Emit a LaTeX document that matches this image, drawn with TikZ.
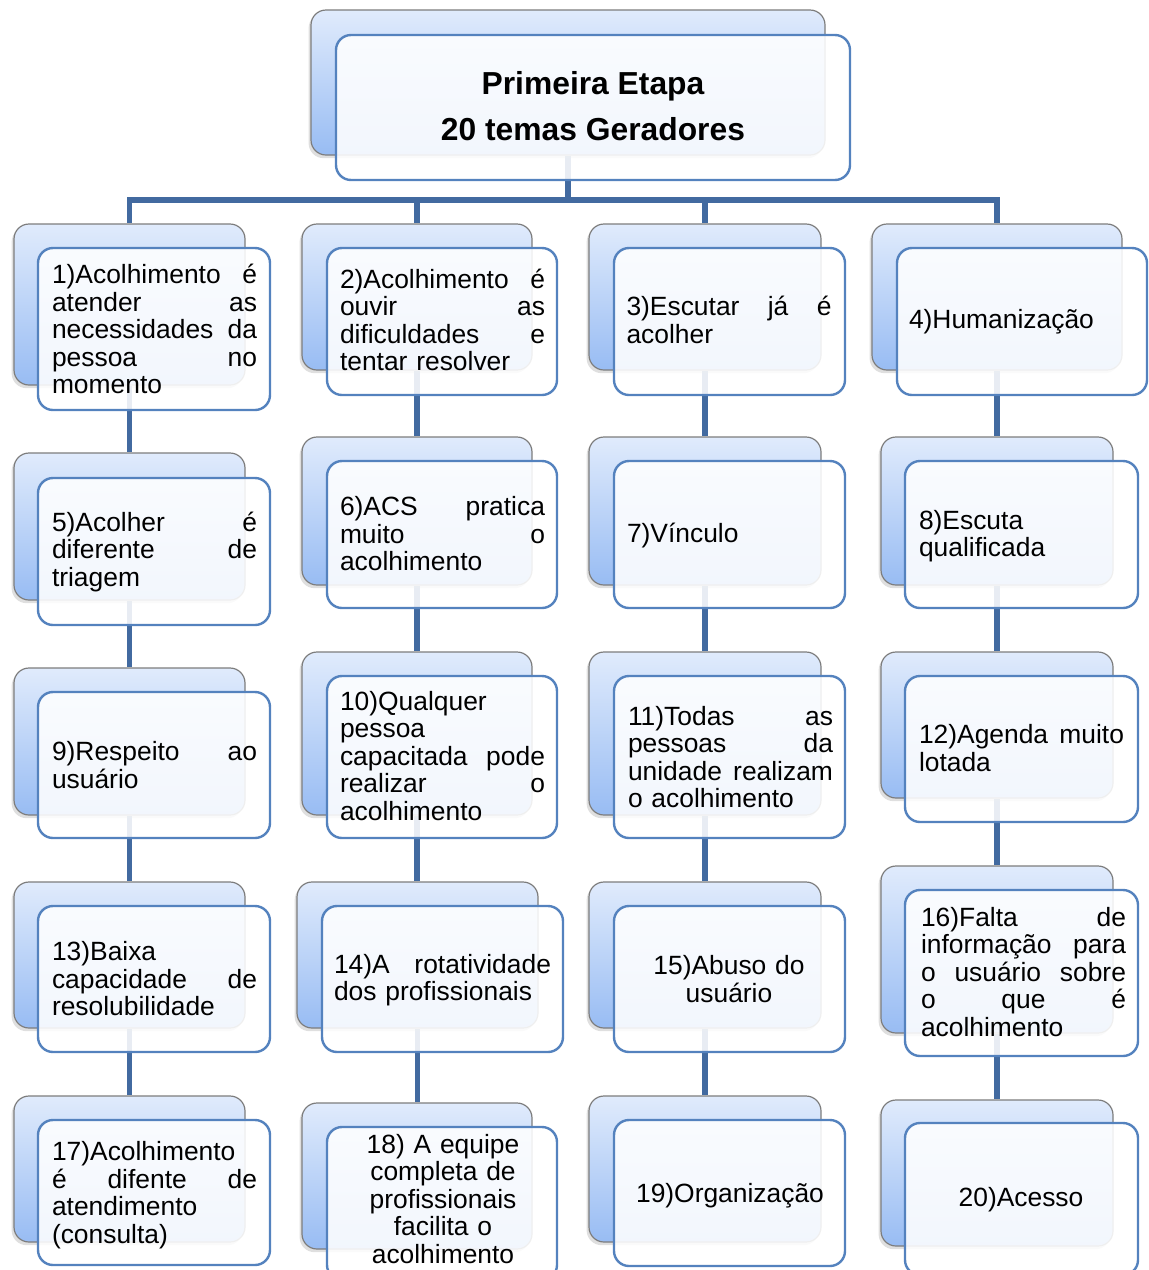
\documentclass[tikz,border=0pt]{standalone}
\usepackage{fontspec}
\setmainfont{Liberation Sans}
\usetikzlibrary{fit,shadows,backgrounds}

\definecolor{linkblue}{RGB}{66,106,160}
\definecolor{edgeblue}{RGB}{84,130,190}
\definecolor{backtop}{RGB}{224,235,252}
\definecolor{backbot}{RGB}{152,188,243}
\definecolor{backedge}{RGB}{125,125,125}

\tikzset{
  back/.style={rectangle, rounded corners=7.5pt, draw=backedge, line width=0.6pt,
    top color=backtop, bottom color=backbot, inner sep=0pt,
    drop shadow={shadow xshift=-1.2pt, shadow yshift=-1.6pt, opacity=0.25}},
  front/.style={rectangle, rounded corners=7.5pt, draw=edgeblue, line width=1.2pt,
    fill=white, fill opacity=0.88, inner sep=0pt},
  link/.style={draw=linkblue, line width=2.6pt},
  txt/.style={text width=102.5pt, align=left, inner sep=0pt,
    font=\fontsize{13.2}{13.75}\selectfont},
  ctxt/.style={txt, align=center}
}

\begin{document}
\begin{tikzpicture}[x=0.5pt, y=-0.5pt]
    \useasboundingbox (0,0) rectangle (1149,1270);

    % Root
    \node[back, fit={(311,10) (825,155)}] (rb) {};
    \node[front, fit={(336,35) (850,180)}] (rf) {};
    \node[inner sep=0pt, align=center, font=\bfseries\fontsize{15.9}{23}\selectfont] (title) at (593,106)
        {Primeira Etapa\\20 temas Geradores};
    \coordinate (bus) at (0,200);

    % Row 1
    \node[back, fit={(14,224) (245,385)}] (b1) {};
    \node[front, fit={(38,248) (270,410)}] (f1) {};
    \node[txt] (t1) at (154.5,329) {1)Acolhimento\hfill é\\ atender\hfill as\\ necessidades\hfill da\\ pessoa\hfill no\\ momento};
    \node[back, fit={(302,224) (532,370)}] (b2) {};
    \node[front, fit={(327,248) (557,395)}] (f2) {};
    \node[txt] (t2) at (442.5,320) {2)Acolhimento\hfill é\\ ouvir\hfill as\\ dificuldades\hfill e\\ tentar resolver};
    \node[back, fit={(589,224) (821,370)}] (b3) {};
    \node[front, fit={(614,248) (845,395)}] (f3) {};
    \node[txt] (t3) at (729,320) {3)Escutar\hfill já\hfill é\\ acolher};
    \node[back, fit={(872,224) (1122,370)}] (b4) {};
    \node[front, fit={(897,248) (1147,395)}] (f4) {};
    \node[txt] (t4) at (1011.5,322) {4)Humanização};

    % Row 2
    \node[back, fit={(14,453) (245,600)}] (b5) {};
    \node[front, fit={(38,478) (270,625)}] (f5) {};
    \node[txt] (t5) at (154.5,552) {5)Acolher\hfill é\\ diferente\hfill de\\ triagem};
    \node[back, fit={(302,437) (532,585)}] (b6) {};
    \node[front, fit={(327,461) (557,608)}] (f6) {};
    \node[txt] (t6) at (442.5,534) {6)ACS\hfill pratica\\ muito\hfill o\\ acolhimento};
    \node[back, fit={(589,437) (821,585)}] (b7) {};
    \node[front, fit={(614,461) (845,608)}] (f7) {};
    \node[txt] (t7) at (729.5,536) {7)Vínculo};
    \node[back, fit={(881,437) (1113,585)}] (b8) {};
    \node[front, fit={(905,461) (1138,608)}] (f8) {};
    \node[txt] (t8) at (1021.5,536) {8)Escuta\\ qualificada};

    % Row 3
    \node[back, fit={(14,668) (245,815)}] (b9) {};
    \node[front, fit={(38,692) (270,838)}] (f9) {};
    \node[txt] (t9) at (154.5,765) {9)Respeito\hfill ao\\ usuário};
    \node[back, fit={(302,652) (532,815)}] (b10) {};
    \node[front, fit={(327,676) (557,838)}] (f10) {};
    \node[txt] (t10) at (442.5,756) {10)Qualquer\\ pessoa\\ capacitada\hfill pode\\ realizar\hfill o\\ acolhimento};
    \node[back, fit={(589,652) (821,815)}] (b11) {};
    \node[front, fit={(614,676) (845,838)}] (f11) {};
    \node[txt] (t11) at (730.5,757) {11)Todas\hfill as\\ pessoas\hfill da\\ unidade\hfill realizam\\ o acolhimento};
    \node[back, fit={(881,652) (1113,798)}] (b12) {};
    \node[front, fit={(905,676) (1138,822)}] (f12) {};
    \node[txt] (t12) at (1021.5,748) {12)Agenda\hfill muito\\ lotada};

    % Row 4
    \node[back, fit={(14,882) (245,1028)}] (b13) {};
    \node[front, fit={(38,906) (270,1052)}] (f13) {};
    \node[txt] (t13) at (154.5,979) {13)Baixa\\ capacidade\hfill de\\ resolubilidade};
    \node[back, fit={(297,882) (538,1028)}] (b14) {};
    \node[front, fit={(322,906) (563,1052)}] (f14) {};
    \node[txt, text width=108.5pt] (t14) at (442.5,980) {14)A\hfill rotatividade\\ dos profissionais};
    \node[back, fit={(589,882) (821,1028)}] (b15) {};
    \node[front, fit={(614,906) (845,1052)}] (f15) {};
    \node[ctxt] (t15) at (729,979) {15)Abuso do\\ usuário};
    \node[back, fit={(881,866) (1113,1033)}] (b16) {};
    \node[front, fit={(905,890) (1138,1056)}] (f16) {};
    \node[txt] (t16) at (1023.5,972) {16)Falta\hfill de\\ informação\hfill para\\ o\hfill usuário\hfill sobre\\ o\hfill que\hfill é\\ acolhimento};

    % Row 5
    \node[back, fit={(14,1096) (245,1242)}] (b17) {};
    \node[front, fit={(38,1120) (270,1265)}] (f17) {};
    \node[txt] (t17) at (154.5,1195) {17)Acolhimento\\ é\hfill difente\hfill de\\ atendimento\\ (consulta)};
    \node[back, fit={(302,1103) (532,1249)}] (b18) {};
    \node[front, fit={(327,1127) (557,1280)}] (f18) {};
    \node[ctxt] (t18) at (443,1199) {18) A equipe\\ completa de\\ profissionais\\ facilita o\\ acolhimento};
    \node[back, fit={(589,1096) (821,1242)}] (b19) {};
    \node[front, fit={(614,1120) (845,1266)}] (f19) {};
    \node[ctxt] (t19) at (730,1196) {19)Organização};
    \node[back, fit={(881,1100) (1113,1246)}] (b20) {};
    \node[front, fit={(905,1123) (1138,1275)}] (f20) {};
    \node[ctxt] (t20) at (1021,1200) {20)Acesso};

    % Connectors behind the boxes
    \begin{scope}[on background layer]
        \foreach \i in {1,...,4}
            \draw[link] (rb.south) -- (rb.south |- bus) -| (b\i.north);
        \foreach \a/\b in {1/5,5/9,9/13,13/17,2/6,6/10,10/14,14/18,3/7,7/11,11/15,15/19,4/8,8/12,12/16,16/20}
            \draw[link] (b\a.south) -- (b\a.south |- b\b.north);
    \end{scope}
\end{tikzpicture}
\end{document}
